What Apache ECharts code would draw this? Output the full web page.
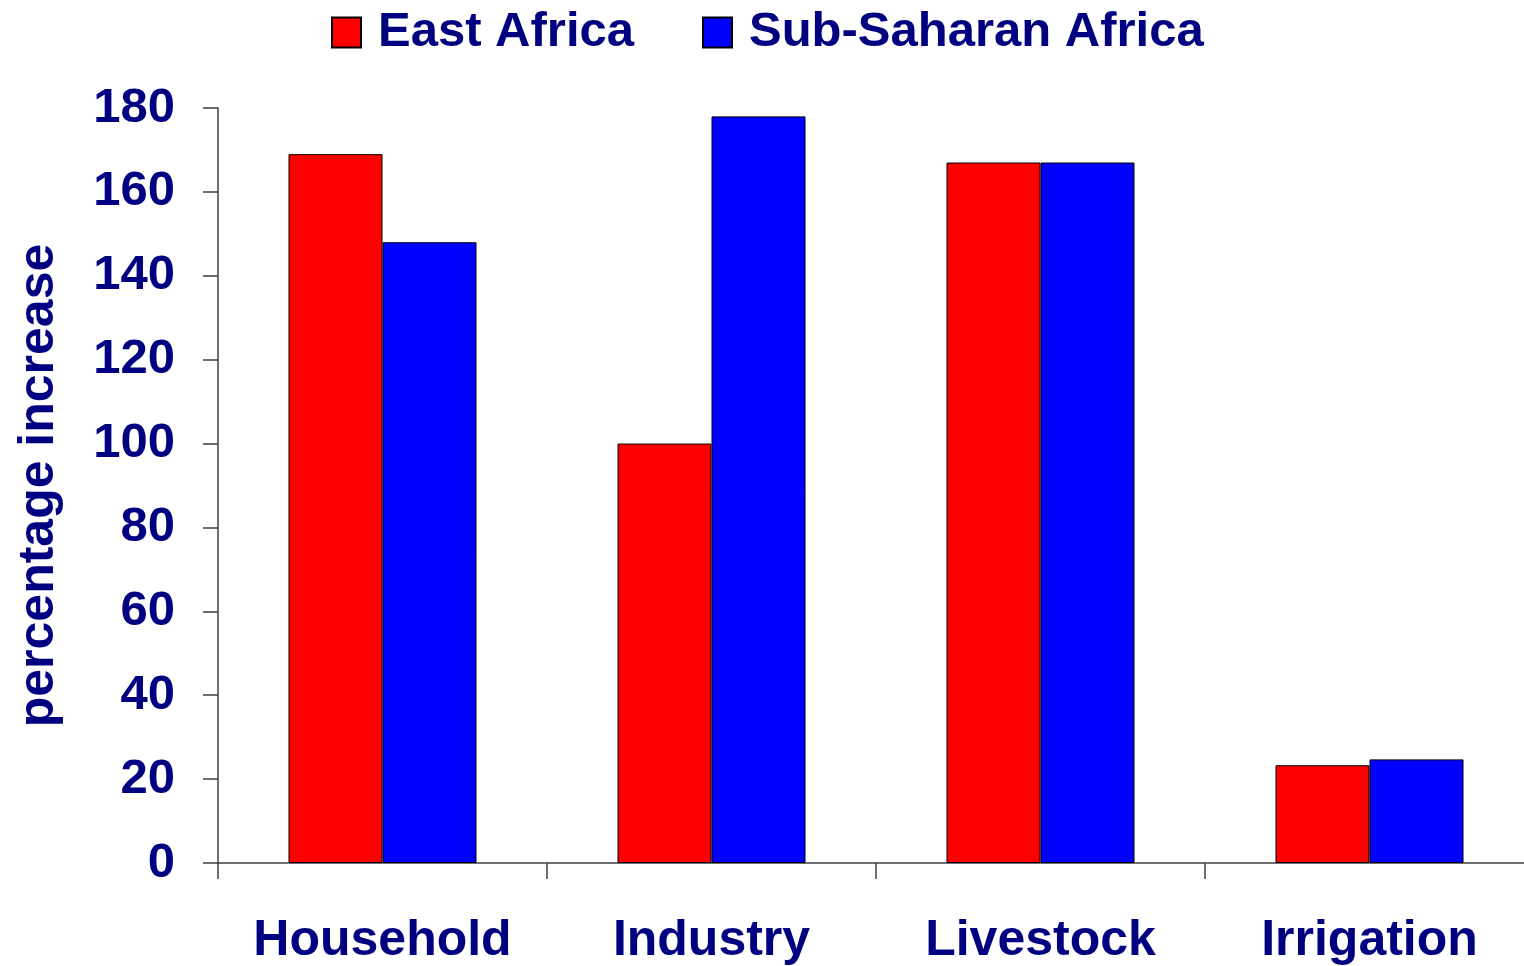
<!DOCTYPE html>
<html>
<head>
<meta charset="utf-8">
<script src="https://cdn.jsdelivr.net/npm/echarts@6/dist/echarts.min.js"></script>
<style>
html,body{margin:0;padding:0;background:#fff;overflow:hidden;width:1524px;height:966px;}
#chart{width:1534px;height:966px;}
</style>
</head>
<body>
<div id="chart"></div>
<script>
const categories = ['Household', 'Industry', 'Livestock', 'Irrigation'];
const eastAfrica = [169, 100, 167, 23.3];
const subSaharanAfrica = [148, 178, 167, 24.7];
const yTicks = { min: 0, max: 180, interval: 20 };

const navy = '#000080';
const font = 'Liberation Sans, Arial, sans-serif';
const axisColor = '#404040';

const chart = echarts.init(document.getElementById('chart'));
chart.setOption({
  backgroundColor: '#fff',
  animation: false,
  legend: {
    left: 326,
    top: 3,
    itemWidth: 29,
    itemHeight: 30,
    itemGap: 68,
    icon: 'rect',
    textStyle: { color: navy, fontSize: 49, fontWeight: 'bold', fontFamily: font, padding: [0, 0, 0, 12] },
    data: ['East Africa', 'Sub-Saharan Africa']
  },
  grid: { left: 218, right: 0, top: 108, bottom: 101, containLabel: false },
  xAxis: {
    type: 'category',
    data: categories,
    axisLine: { lineStyle: { color: axisColor, width: 1.5 } },
    axisTick: { show: true, interval: 0, length: 16, lineStyle: { color: axisColor, width: 1.5 } },
    axisLabel: { interval: 0, color: navy, fontSize: 50, fontWeight: 'bold', fontFamily: font, margin: 53 }
  },
  yAxis: {
    type: 'value',
    min: yTicks.min,
    max: yTicks.max,
    interval: yTicks.interval,
    name: 'percentage increase',
    nameLocation: 'middle',
    nameGap: 154,
    nameTextStyle: { color: navy, fontSize: 50, fontWeight: 'bold', fontFamily: font },
    axisLine: { show: true, lineStyle: { color: axisColor, width: 1.5 } },
    axisTick: { show: true, length: 15, lineStyle: { color: axisColor, width: 1.5 } },
    axisLabel: { color: navy, fontSize: 49, fontWeight: 'bold', fontFamily: font, margin: 43 },
    splitLine: { show: false }
  },
  series: [
    {
      name: 'East Africa', type: 'bar', data: eastAfrica,
      barWidth: 94, barGap: '0%',
      itemStyle: { color: '#FF0000', borderColor: '#000', borderWidth: 1 }
    },
    {
      name: 'Sub-Saharan Africa', type: 'bar', data: subSaharanAfrica,
      barWidth: 94, barGap: '0%',
      itemStyle: { color: '#0000FF', borderColor: '#000', borderWidth: 1 }
    }
  ]
});
</script>
</body>
</html>
